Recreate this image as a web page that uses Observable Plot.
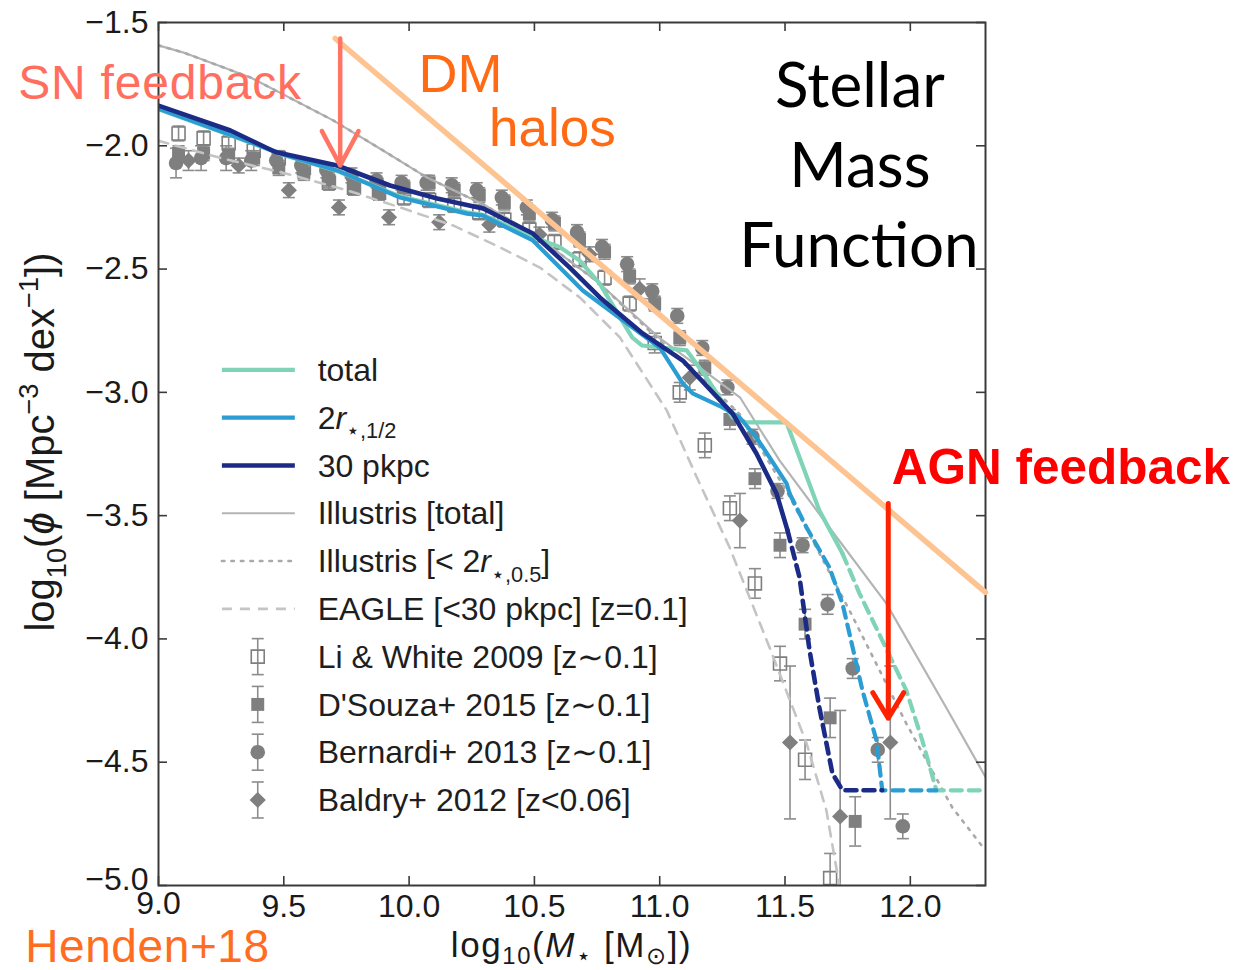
<!DOCTYPE html>
<html>
<head>
<meta charset="utf-8">
<script src="https://cdn.jsdelivr.net/npm/d3@7"></script>
<script src="https://cdn.jsdelivr.net/npm/@observablehq/plot@0.6"></script>
<style>
html,body{margin:0;padding:0;background:#fff;}
#chart svg{display:block;}
</style>
</head>
<body>
<div id="chart"></div>
<script>
// ------------------------------------------------------------------ data
const xTicks = [9.0, 9.5, 10.0, 10.5, 11.0, 11.5, 12.0];
const yTicks = [-1.5, -2.0, -2.5, -3.0, -3.5, -4.0, -4.5, -5.0];

// TNG "total" (solid part, then dashed part)
const totalX  = [9.0, 9.287, 9.498, 9.713, 9.964, 10.231, 10.295, 10.494, 10.60, 10.68, 10.76, 10.89, 10.93, 11.108, 11.187, 11.291, 11.347, 11.506, 11.637, 11.729];
const totalY  = [-1.852, -1.957, -2.037, -2.102, -2.205, -2.27, -2.28, -2.37, -2.41, -2.465, -2.558, -2.777, -2.81, -2.83, -2.94, -3.102, -3.122, -3.122, -3.479, -3.653];
const totalDX = [11.729, 11.797, 11.888, 11.984, 12.048, 12.104, 12.3];
const totalDY = [-3.653, -3.815, -4.006, -4.209, -4.412, -4.614, -4.614];

// 2 r_half
const r2X  = [9.0, 9.287, 9.498, 9.713, 9.964, 10.231, 10.295, 10.494, 10.693, 10.892, 11.0, 11.092, 11.131, 11.251, 11.319, 11.386, 11.506, 11.518];
const r2Y  = [-1.850, -1.955, -2.035, -2.100, -2.210, -2.275, -2.283, -2.384, -2.587, -2.737, -2.818, -2.964, -3.004, -3.061, -3.102, -3.183, -3.369, -3.410];
const r2DX = [11.518, 11.586, 11.677, 11.729, 11.757, 11.809, 11.865, 11.888, 12.104];
const r2DY = [-3.410, -3.548, -3.710, -3.856, -3.978, -4.209, -4.412, -4.614, -4.614];

// 30 pkpc
const p30X  = [9.0, 9.287, 9.466, 9.713, 9.924, 10.112, 10.295, 10.494, 10.641, 10.761, 10.932, 11.092, 11.291, 11.386, 11.466, 11.51];
const p30Y  = [-1.837, -1.938, -2.025, -2.080, -2.161, -2.214, -2.254, -2.356, -2.494, -2.615, -2.761, -2.871, -3.086, -3.248, -3.410, -3.560];
const p30DX = [11.51, 11.558, 11.598, 11.637, 11.689, 11.729, 11.888];
const p30DY = [-3.560, -3.751, -4.047, -4.278, -4.545, -4.614, -4.614];

// Illustris [total] and Illustris [< 2 r]
const illX  = [9.0, 9.10, 9.367, 9.697, 9.896, 10.072, 10.3, 10.5, 10.75, 11.0, 11.16, 11.32, 11.478, 11.677, 11.904, 12.143, 12.3];
const illY  = [-1.593, -1.622, -1.723, -1.897, -2.019, -2.129, -2.24, -2.36, -2.55, -2.78, -2.90, -3.02, -3.276, -3.548, -3.856, -4.278, -4.56];
const ill2X = [9.0, 9.10, 9.367, 9.697, 9.896, 10.072, 10.3, 10.5, 10.75, 11.0, 11.16, 11.32, 11.506, 11.757, 11.984, 12.167, 12.3];
const ill2Y = [-1.593, -1.622, -1.723, -1.897, -2.019, -2.129, -2.24, -2.36, -2.55, -2.79, -2.93, -3.09, -3.40, -3.884, -4.343, -4.683, -4.858];

// EAGLE
const eagleX = [9.0, 9.25, 9.5, 9.75, 9.964, 10.175, 10.363, 10.522, 10.681, 10.841, 11.028, 11.159, 11.279, 11.438, 11.586, 11.665, 11.717];
const eagleY = [-1.98, -2.05, -2.11, -2.18, -2.250, -2.323, -2.412, -2.494, -2.615, -2.777, -3.073, -3.369, -3.629, -4.034, -4.424, -4.695, -5.0];

// Li & White 2009 (open squares)
const liwX = [9.08, 9.18, 9.28, 9.38, 9.48, 9.58, 9.68, 9.78, 9.88, 9.98, 10.08, 10.18, 10.28, 10.38, 10.48, 10.58, 10.68, 10.78, 10.88, 10.98, 11.08, 11.18, 11.28, 11.38, 11.48, 11.58, 11.68];
const liwY = [-1.95, -1.97, -1.99, -2.02, -2.05, -2.09, -2.15, -2.17, -2.19, -2.21, -2.22, -2.24, -2.27, -2.30, -2.34, -2.39, -2.46, -2.535, -2.64, -2.80, -3.00, -3.215, -3.47, -3.775, -4.10, -4.49, -4.97];
const liwE = [0.03, 0.03, 0.03, 0.03, 0.03, 0.03, 0.03, 0.03, 0.03, 0.03, 0.03, 0.03, 0.03, 0.03, 0.03, 0.03, 0.03, 0.03, 0.03, 0.04, 0.04, 0.05, 0.05, 0.06, 0.07, 0.08, 0.10];

// D'Souza+ 2015 (filled squares)
const dsoX = [9.08, 9.18, 9.28, 9.38, 9.48, 9.58, 9.68, 9.78, 9.88, 9.98, 10.08, 10.18, 10.28, 10.38, 10.48, 10.58, 10.68, 10.78, 10.88, 10.98, 11.08, 11.18, 11.28, 11.38, 11.48, 11.58, 11.68, 11.78];
const dsoY = [-2.03, -2.03, -2.04, -2.05, -2.09, -2.11, -2.14, -2.17, -2.19, -2.17, -2.15, -2.18, -2.20, -2.23, -2.275, -2.315, -2.38, -2.43, -2.53, -2.64, -2.78, -2.90, -3.11, -3.35, -3.62, -3.94, -4.32, -4.74];
const dsoE = [0.03, 0.03, 0.03, 0.03, 0.03, 0.03, 0.03, 0.03, 0.03, 0.03, 0.03, 0.03, 0.03, 0.03, 0.03, 0.03, 0.03, 0.03, 0.03, 0.03, 0.03, 0.03, 0.04, 0.04, 0.05, 0.06, 0.08, 0.10];

// Bernardi+ 2013 (filled circles)
const berX = [9.07, 9.17, 9.27, 9.37, 9.47, 9.57, 9.67, 9.77, 9.87, 9.97, 10.07, 10.17, 10.27, 10.37, 10.47, 10.57, 10.67, 10.77, 10.87, 10.97, 11.07, 11.17, 11.27, 11.37, 11.47, 11.57, 11.67, 11.77, 11.87, 11.97];
const berY = [-2.07, -2.05, -2.05, -2.06, -2.06, -2.08, -2.10, -2.12, -2.14, -2.15, -2.15, -2.16, -2.18, -2.21, -2.25, -2.30, -2.35, -2.41, -2.48, -2.59, -2.69, -2.82, -2.98, -3.18, -3.40, -3.62, -3.86, -4.12, -4.45, -4.76];
const berE = [0.06, 0.05, 0.05, 0.04, 0.04, 0.03, 0.03, 0.03, 0.03, 0.03, 0.03, 0.03, 0.03, 0.03, 0.03, 0.03, 0.03, 0.03, 0.03, 0.03, 0.03, 0.03, 0.03, 0.03, 0.03, 0.03, 0.04, 0.04, 0.05, 0.05];

// Baldry+ 2012 (diamonds)
const balX = [9.12, 9.32, 9.52, 9.72, 9.92, 10.12, 10.32, 10.52, 10.72, 10.92, 11.12, 11.32, 11.52, 11.72, 11.92];
const balY = [-2.06, -2.08, -2.18, -2.25, -2.29, -2.31, -2.32, -2.36, -2.44, -2.58, -2.94, -3.52, -4.42, -4.72, -4.42];
const balE = [0.04, 0.03, 0.03, 0.03, 0.03, 0.03, 0.03, 0.03, 0.03, 0.04, 0.05, 0.11, 0.31, 0.43, 0.31];

// DM halo reference line and feedback arrows
const dmX = [9.705, 12.3];
const dmY = [-1.565, -3.811];
const snArrow  = [{x1: 9.725, y1: -1.565, x2: 9.725, y2: -2.08}];
const agnArrow = [{x1: 11.912, y1: -3.451, x2: 11.912, y2: -4.322}];

// legend
const legendLabels = [
  [{t: "total"}],
  [{t: "2"}, {t: "r", i: 1}, {t: "\u22c6,1/2", sub: 1}],
  [{t: "30 pkpc"}],
  [{t: "Illustris [total]"}],
  [{t: "Illustris [< 2"}, {t: "r", i: 1}, {t: "\u22c6,0.5", sub: 1}, {t: "]"}],
  [{t: "EAGLE [<30 pkpc] [z=0.1]"}],
  [{t: "Li & White 2009 [z\u223c0.1]"}],
  [{t: "D'Souza+ 2015 [z\u223c0.1]"}],
  [{t: "Bernardi+ 2013 [z\u223c0.1]"}],
  [{t: "Baldry+ 2012 [z<0.06]"}]
];

// annotation texts (positions in data units; dy in em for the baseline)
const annotations = [
  {t: "SN feedback", x: 8.442, y: -1.743, anchor: "start", size: 48, ls: 0.8, color: "#ff6e5e", weight: 400, font: "Liberation Sans, Arial, sans-serif"},
  {t: "DM", x: 10.207, y: -1.707, anchor: "middle", size: 54, ls: 0, color: "#ff6a13", weight: 400, font: "Liberation Sans, Arial, sans-serif"},
  {t: "halos", x: 10.574, y: -1.926, anchor: "middle", size: 53, ls: 0, color: "#ff6a13", weight: 400, font: "Liberation Sans, Arial, sans-serif"},
  {t: "Stellar", x: 11.801, y: -1.755, anchor: "middle", size: 62, ls: 0, color: "#000", weight: 400, font: "Lato, 'Open Sans', sans-serif"},
  {t: "Mass", x: 11.801, y: -2.080, anchor: "middle", size: 62, ls: 0, color: "#000", weight: 400, font: "Lato, 'Open Sans', sans-serif"},
  {t: "Function", x: 11.797, y: -2.404, anchor: "middle", size: 62, ls: 0, color: "#000", weight: 400, font: "Lato, 'Open Sans', sans-serif"},
  {t: "AGN feedback", x: 11.928, y: -3.305, anchor: "start", size: 49.5, ls: 0, color: "#ff0000", weight: 700, font: "Liberation Sans, Arial, sans-serif"},
  {t: "Henden+18", x: 8.470, y: -5.246, anchor: "start", size: 46, ls: 0.6, color: "#ff6d1f", weight: 400, font: "Liberation Sans, Arial, sans-serif"}
];

// ------------------------------------------------------------------ styles
const FONT = "'Liberation Sans', Arial, Helvetica, sans-serif";
const C_TOTAL = "#7fd3b7", C_R2 = "#2b9dd3", C_P30 = "#1b2b86";
const C_ILL = "#b4b4b4", C_EAGLE = "#c4c4c4", C_OBS = "#7f7f7f", C_ERR = "#8c8c8c";
const C_DM = "#fdc391";
const W = 1239, H = 970;
const M = {left: 158, right: 254, top: 22, bottom: 85};
const innerW = W - M.left - M.right;
const innerH = H - M.top - M.bottom;
const TICK = 9, CAP = 0.024, R = 7.3;

const pts = (xs, ys, es) => xs.map((x, i) => ({x, y: ys[i], e: es ? es[i] : 0}));

function errMarks(data) {
  return [
    Plot.ruleX(data, {x: "x", y1: d => d.y - d.e, y2: d => d.y + d.e, stroke: C_ERR, strokeWidth: 1.6, clip: true}),
    Plot.link(data, {x1: d => d.x - CAP, x2: d => d.x + CAP, y1: d => d.y - d.e, y2: d => d.y - d.e, stroke: C_ERR, strokeWidth: 1.6, clip: true}),
    Plot.link(data, {x1: d => d.x - CAP, x2: d => d.x + CAP, y1: d => d.y + d.e, y2: d => d.y + d.e, stroke: C_ERR, strokeWidth: 1.6, clip: true})
  ];
}

const liw = pts(liwX, liwY, liwE), dso = pts(dsoX, dsoY, dsoE), ber = pts(berX, berY, berE), bal = pts(balX, balY, balE);
const lineOpts = (stroke, w, extra = {}) => ({x: "x", y: "y", stroke, strokeWidth: w, strokeLinejoin: "round", clip: true, ...extra});
const DASH = "11,7";
const yFmt = d3.format(".1f");
const xFmt = d => d.toFixed(1);

const plot = Plot.plot({
  width: W, height: H,
  marginLeft: M.left, marginRight: M.right, marginTop: M.top, marginBottom: M.bottom,
  x: {domain: [9, 12.3]},
  y: {domain: [-5, -1.5]},
  style: {fontFamily: FONT, fontSize: "32px", color: "#1a1a1a", background: "white", overflow: "visible"},
  marks: [
    Plot.axisX(xTicks.filter(d => d > 9), {anchor: "bottom", tickSize: 0, tickPadding: 9, tickFormat: xFmt, label: null}),
    Plot.axisX(xTicks.filter(d => d === 9), {anchor: "bottom", tickSize: 0, tickPadding: 9, tickFormat: xFmt, label: null, dy: -3}),
    Plot.axisY(yTicks.filter(d => d > -5), {anchor: "left", tickSize: 0, tickPadding: 10, tickFormat: yFmt, label: null}),
    Plot.axisY(yTicks.filter(d => d === -5), {anchor: "left", tickSize: 0, tickPadding: 10, tickFormat: yFmt, label: null, dy: -6}),
    // observations
    ...errMarks(liw), ...errMarks(dso), ...errMarks(ber), ...errMarks(bal),
    Plot.dot(dso, {x: "x", y: "y", symbol: "square", r: R, fill: C_OBS, stroke: "none", clip: true}),
    Plot.dot(ber, {x: "x", y: "y", symbol: "circle", r: R, fill: C_OBS, stroke: "none", clip: true}),
    Plot.dot(bal, {x: "x", y: "y", symbol: "diamond2", r: R, fill: C_OBS, stroke: "none", clip: true}),
    Plot.dot(liw, {x: "x", y: "y", symbol: "square", r: R, fill: "none", stroke: C_OBS, strokeWidth: 1.6, clip: true}),
    // other simulations
    Plot.line(pts(eagleX, eagleY), lineOpts(C_EAGLE, 2.6, {strokeDasharray: "10,8"})),
    Plot.line(pts(illX, illY), lineOpts(C_ILL, 2.2)),
    Plot.line(pts(ill2X, ill2Y), lineOpts("#a9a9a9", 2.6, {strokeDasharray: "2.5,7", strokeLinecap: "round"})),
    // TNG
    Plot.line(pts(totalX, totalY), lineOpts(C_TOTAL, 4.2)),
    Plot.line(pts(totalDX, totalDY), lineOpts(C_TOTAL, 4.2, {strokeDasharray: DASH})),
    Plot.line(pts(r2X, r2Y), lineOpts(C_R2, 4.2)),
    Plot.line(pts(r2DX, r2DY), lineOpts(C_R2, 4.2, {strokeDasharray: DASH})),
    Plot.line(pts(p30X, p30Y), lineOpts(C_P30, 4.6)),
    Plot.line(pts(p30DX, p30DY), lineOpts(C_P30, 4.6, {strokeDasharray: DASH})),
    // frame and inward ticks
    Plot.frame({stroke: "#3a3a3a", strokeWidth: 2}),
    Plot.tickX(xTicks, {x: d => d, insetBottom: innerH - TICK, stroke: "#3a3a3a", strokeWidth: 1.6}),
    Plot.tickX(xTicks, {x: d => d, insetTop: innerH - TICK, stroke: "#3a3a3a", strokeWidth: 1.6}),
    Plot.tickY(yTicks, {y: d => d, insetRight: innerW - TICK, stroke: "#3a3a3a", strokeWidth: 1.6}),
    Plot.tickY(yTicks, {y: d => d, insetLeft: innerW - TICK, stroke: "#3a3a3a", strokeWidth: 1.6}),
    // annotations
    Plot.line(pts(dmX, dmY), {x: "x", y: "y", stroke: C_DM, strokeWidth: 5.5}),
    Plot.arrow(snArrow, {x1: "x1", y1: "y1", x2: "x2", y2: "y2", stroke: "#ff7462", strokeWidth: 4.5, headLength: 13, headAngle: 56}),
    Plot.arrow(agnArrow, {x1: "x1", y1: "y1", x2: "x2", y2: "y2", stroke: "#ff2200", strokeWidth: 5, headLength: 9, headAngle: 62})
  ]
});

document.getElementById("chart").appendChild(plot);

// ------------------------------------------------------------------ rich text helpers
const sx = plot.scale("x"), sy = plot.scale("y");
const svg = d3.select(plot);

function rich(text, segs, fs, subShift = 0.30) {
  let shift = 0;
  segs.forEach(s => {
    const t = text.append("tspan").text(s.t);
    const target = s.sub ? subShift * fs : s.sup ? -0.40 * fs : 0;
    if (target !== shift) { t.attr("dy", target - shift); shift = target; }
    if (s.sub || s.sup) t.attr("font-size", 0.68 * fs);
    if (s.i) t.attr("font-style", "italic");
  });
}

// legend
const LEG = {x0: 9.255, x1: 9.546, xm: 9.398, xt: 9.637, y0: -2.911, dy: -0.1938};
const LEG_FS = 32;
const lg = svg.append("g").attr("font-family", FONT).attr("text-anchor", "start");
const lineStyles = [
  {stroke: C_TOTAL, w: 4.2}, {stroke: C_R2, w: 4.2}, {stroke: C_P30, w: 4.6},
  {stroke: C_ILL, w: 2.2}, {stroke: "#a9a9a9", w: 2.6, dash: "2.5,7", cap: "round"}, {stroke: C_EAGLE, w: 2.6, dash: "10,8"}
];
const markerStyles = [
  {symbol: d3.symbolSquare, fill: "none", stroke: C_OBS},
  {symbol: d3.symbolSquare, fill: C_OBS, stroke: "none"},
  {symbol: d3.symbolCircle, fill: C_OBS, stroke: "none"},
  {symbol: d3.symbolDiamond2, fill: C_OBS, stroke: "none"}
];
legendLabels.forEach((segs, i) => {
  const yy = sy.apply(LEG.y0 + i * LEG.dy);
  if (i < lineStyles.length) {
    const s = lineStyles[i];
    lg.append("line").attr("x1", sx.apply(LEG.x0)).attr("x2", sx.apply(LEG.x1)).attr("y1", yy).attr("y2", yy)
      .attr("stroke", s.stroke).attr("stroke-width", s.w).attr("stroke-dasharray", s.dash || null)
      .attr("stroke-linecap", s.cap || "butt");
  } else {
    const s = markerStyles[i - lineStyles.length];
    const xm = sx.apply(LEG.xm);
    const eh = 18, cw = 6;
    lg.append("line").attr("x1", xm).attr("x2", xm).attr("y1", yy - eh).attr("y2", yy + eh).attr("stroke", C_ERR).attr("stroke-width", 1.6);
    lg.append("line").attr("x1", xm - cw).attr("x2", xm + cw).attr("y1", yy - eh).attr("y2", yy - eh).attr("stroke", C_ERR).attr("stroke-width", 1.6);
    lg.append("line").attr("x1", xm - cw).attr("x2", xm + cw).attr("y1", yy + eh).attr("y2", yy + eh).attr("stroke", C_ERR).attr("stroke-width", 1.6);
    lg.append("path").attr("transform", `translate(${xm},${yy})`)
      .attr("d", d3.symbol(s.symbol, Math.PI * R * R)())
      .attr("fill", s.fill).attr("stroke", s.stroke).attr("stroke-width", 1.6);
  }
  const t = lg.append("text").attr("x", sx.apply(LEG.xt)).attr("y", yy).attr("dy", "0.35em")
    .attr("text-anchor", "start").attr("font-size", LEG_FS).attr("fill", "#1e1e1e");
  rich(t, segs, LEG_FS);
});

// axis labels
const XL_FS = 35, YL_FS = 40;
const xLab = svg.append("text").attr("x", (M.left + W - M.right) / 2).attr("y", 957)
  .attr("text-anchor", "middle").attr("font-family", FONT).attr("font-size", XL_FS)
  .attr("letter-spacing", 1.6).attr("fill", "#1a1a1a");
rich(xLab, [{t: "log"}, {t: "10", sub: 1}, {t: "("}, {t: "M", i: 1}, {t: "\u22c6", sub: 1}, {t: " [M"}, {t: "\u2299", sub: 1}, {t: "])"}], XL_FS, 0.2);
const yLab = svg.append("text").attr("transform", "translate(40,442) rotate(-90)").attr("dy", "0.35em")
  .attr("text-anchor", "middle").attr("font-family", FONT).attr("font-size", YL_FS).attr("fill", "#1a1a1a");
rich(yLab, [{t: "log"}, {t: "10", sub: 1}, {t: "("}, {t: "\u03d5", i: 1}, {t: " [Mpc"}, {t: "\u22123", sup: 1}, {t: " dex"}, {t: "\u22121", sup: 1}, {t: "])"}], YL_FS);

// annotations
annotations.forEach(a => {
  svg.append("text").attr("x", sx.apply(a.x)).attr("y", sy.apply(a.y)).attr("dy", "0.35em")
    .attr("text-anchor", a.anchor).attr("font-family", a.font).attr("font-size", a.size)
    .attr("letter-spacing", a.ls || null)
    .attr("font-weight", a.weight).attr("fill", a.color).text(a.t);
});
</script>
</body>
</html>
